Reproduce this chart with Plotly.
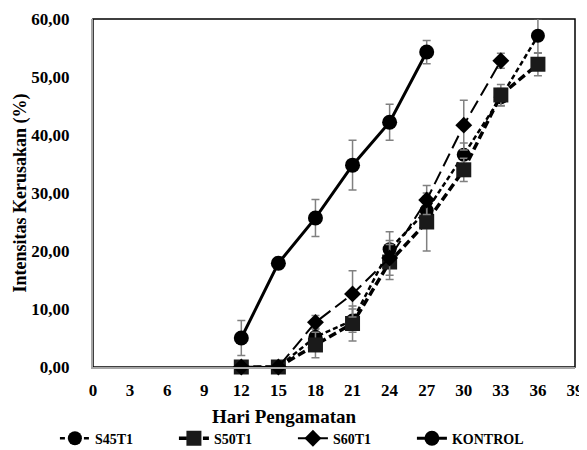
import plotly.graph_objects as go

days = [12, 15, 18, 21, 24, 27, 30, 33, 36]
s45t1 = [0, 0, 5.2, 8.0, 20.3, 27.0, 36.6, 46.5, 57.1]
s45t1_err = [0, 0, 1.5, 2.0, 3.0, 2.5, 2.0, 1.5, 3.0]
s50t1 = [0, 0, 3.8, 7.5, 18.1, 25.0, 34.0, 46.9, 52.2]
s50t1_err = [0, 0, 2.2, 3.0, 3.0, 5.0, 2.0, 1.8, 2.0]
days_s60 = [12, 15, 18, 21, 24, 27, 30, 33]
s60t1 = [0, 0, 7.7, 12.6, 18.8, 28.8, 41.7, 52.8]
s60t1_err = [0, 0, 1.2, 4.0, 3.0, 2.5, 4.3, 1.3]
days_k = [12, 15, 18, 21, 24, 27]
kontrol = [5.0, 17.9, 25.7, 34.8, 42.2, 54.3]
kontrol_err = [3.0, 1.0, 3.2, 4.3, 3.1, 2.0]

xticks = list(range(0, 40, 3))
yticks = [0, 10, 20, 30, 40, 50, 60]
ytext = ["0,00", "10,00", "20,00", "30,00", "40,00", "50,00", "60,00"]

err_style = dict(type="data", color="#808080", thickness=1.5, width=4)

fig = go.Figure()
fig.add_trace(go.Scatter(x=days, y=s45t1, name="<b>S45T1</b>", mode="lines+markers",
                         line=dict(color="black", width=2.5, dash="5px,3px"),
                         marker=dict(symbol="circle", size=14, color="black"),
                         cliponaxis=False,
                         error_y=dict(array=s45t1_err, **err_style)))
fig.add_trace(go.Scatter(x=days, y=s50t1, name="<b>S50T1</b>", mode="lines+markers",
                         line=dict(color="black", width=3.5, dash="8px,4px"),
                         marker=dict(symbol="square", size=15, color="#1a1a1a"),
                         cliponaxis=False,
                         error_y=dict(array=s50t1_err, **err_style)))
fig.add_trace(go.Scatter(x=days_s60, y=s60t1, name="<b>S60T1</b>", mode="lines+markers",
                         line=dict(color="black", width=2, dash="14px,6px"),
                         marker=dict(symbol="diamond", size=13, color="black"),
                         cliponaxis=False,
                         error_y=dict(array=s60t1_err, **err_style)))
fig.add_trace(go.Scatter(x=days_k, y=kontrol, name="<b>KONTROL</b>", mode="lines+markers",
                         line=dict(color="black", width=3),
                         marker=dict(symbol="circle", size=15, color="black"),
                         cliponaxis=False,
                         error_y=dict(array=kontrol_err, **err_style)))

font_b = dict(family="Liberation Serif", size=17, color="black")

fig.update_layout(
    width=587, height=450,
    margin=dict(l=85, r=20, t=11, b=91, autoexpand=False),
    paper_bgcolor="white", plot_bgcolor="white",
    showlegend=True,
    legend=dict(orientation="h", x=-0.079, xanchor="left", y=-0.16, yanchor="top",
                font=dict(family="Liberation Serif", size=14, color="black"),
                entrywidth=74, tracegroupgap=0),
    shapes=[dict(type="rect", xref="paper", yref="paper", x0=0, x1=1, y0=0, y1=1,
                 line=dict(color="black", width=1.5), layer="below")],
    annotations=[dict(text="<b>Hari Pengamatan</b>", xref="paper", yref="paper",
                      x=(284 - 93) / 482, y=-(416 - 367) / 348, xanchor="center",
                      yanchor="middle", showarrow=False,
                      font=dict(family="Liberation Serif", size=19, color="black"))],
)
fig.update_xaxes(range=[0, 39], tickmode="array", tickvals=xticks,
                 ticktext=["<b>%d</b>" % t for t in xticks],
                 tickfont=font_b, showgrid=False, zeroline=False,
                 showline=True, linecolor="#a6a6a6", linewidth=2, ticks="",
                 ticklabelstandoff=7)
fig.update_yaxes(range=[0, 60], tickmode="array", tickvals=yticks,
                 ticktext=["<b>%s</b>" % t for t in ytext],
                 tickfont=font_b, showgrid=False, zeroline=False,
                 showline=True, linecolor="#a6a6a6", linewidth=2, ticks="",
                 ticklabelstandoff=18,
                 title=dict(text="<b>Intensitas Kerusakan (%)</b>",
                            font=dict(family="Liberation Serif", size=18, color="black"),
                            standoff=0))

fig.write_html("out.html")
